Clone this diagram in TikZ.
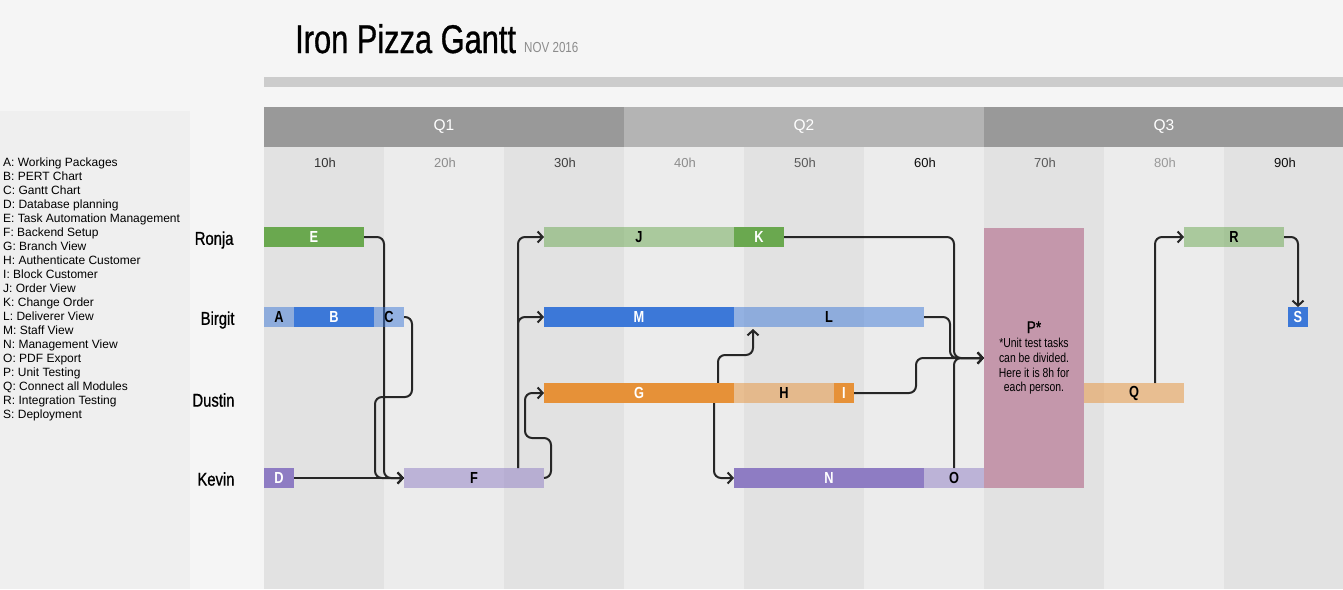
\documentclass[tikz,border=0pt]{standalone}
\usepackage{fontspec}
\setmainfont{Liberation Sans}
\newfontfamily\condfont[FakeStretch=0.8]{Liberation Sans}
\newfontfamily\namefont[FakeStretch=0.8,FakeBold=0.8]{Liberation Sans}
\newfontfamily\titlefont[FakeStretch=0.77,FakeBold=0.8]{Liberation Sans}
\usetikzlibrary{arrows.meta}

\definecolor{pageBg}{HTML}{F5F5F5}
\definecolor{panelBg}{HTML}{EFEFEF}
\definecolor{ruleGray}{HTML}{CCCCCC}
\definecolor{quarterDark}{HTML}{999999}
\definecolor{quarterLight}{HTML}{B4B4B4}
\definecolor{colDark}{HTML}{E2E2E2}
\definecolor{colLight}{HTML}{ECECEC}
\definecolor{gGreen}{HTML}{6AA84F}
\definecolor{gBlue}{HTML}{3C78D8}
\definecolor{gOrange}{HTML}{E69138}
\definecolor{gPurple}{HTML}{8E7CC3}
\definecolor{gPink}{HTML}{C497AB}

\pgfdeclarelayer{front}
\pgfsetlayers{main,front}

\begin{document}
\begin{tikzpicture}[x=1pt, y=-1pt,
    bar/.style={anchor=north west, minimum height=20pt, inner sep=0pt, outer sep=0pt,
      text=white, font=\condfont\bfseries\fontsize{16}{16}\selectfont},
    soft/.style={bar, fill opacity=0.5, text opacity=1, text=black},
    link/.style={draw=black!85, line width=2pt, rounded corners=7pt,
      -{Straight Barb[length=5pt,width=11pt]}},
    who/.style={anchor=east, font=\namefont\fontsize{18.5}{18.5}\selectfont},
    hour/.style={font=\fontsize{13}{13}\selectfont},
    quarter/.style={anchor=north west, minimum width=360pt, minimum height=40pt,
      inner sep=0pt, outer sep=0pt, text=white, font=\fontsize{15.5}{15.5}\selectfont},
    legend/.style={anchor=base west, inner sep=0pt, font=\fontsize{12}{14}\selectfont}]
  \useasboundingbox (0,0) rectangle (1343,589);
  \fill[pageBg] (0,0) rectangle (1343,589);

  % title
  \node[anchor=base west, inner sep=0pt, font=\titlefont\fontsize{40}{40}\selectfont] (title) at (295,53) {Iron Pizza Gantt};
  \node[anchor=base west, inner sep=0pt, text=black!45, font=\condfont\fontsize{14.5}{14.5}\selectfont] (date) at (524,52) {NOV 2016};
  \fill[ruleGray] (264,77) rectangle (1343,87);

  % legend
  \fill[panelBg] (0,111) rectangle (190,589);
  \foreach \t [count=\i] in {A: Working Packages, B: PERT Chart, C: Gantt Chart,
      D: Database planning, E: Task Automation Management, F: Backend Setup,
      G: Branch View, H: Authenticate Customer, I: Block Customer, J: Order View,
      K: Change Order, L: Deliverer View, M: Staff View, N: Management View,
      O: PDF Export, P: Unit Testing, Q: Connect all Modules,
      R: Integration Testing, S: Deployment}
    \node[legend] (leg\i) at (3,152+14*\i) {\t};

  % columns and quarters
  \foreach \x in {264,504,744,984,1224}
    \fill[colDark] (\x,147) rectangle ++(120,442);
  \foreach \x in {384,624,864,1104}
    \fill[colLight] (\x,147) rectangle ++(120,442);
  \node[quarter, fill=quarterDark] (q1) at (264,107) {Q1};
  \node[quarter, fill=quarterLight] (q2) at (624,107) {Q2};
  \node[quarter, fill=quarterDark] (q3) at (984,107) {Q3};
  \foreach \h/\c [count=\i] in {10h/80, 20h/45, 30h/75, 40h/45, 50h/65, 60h/95, 70h/65, 80h/40, 90h/95}
    \node[hour, text=black!\c] (hour\i) at (205+120*\i,163) {\h};

  % people
  \node[who] (ronja) at (237,240) {Ronja};
  \node[who] (birgit) at (238,320) {Birgit};
  \node[who] (dustin) at (238,400) {Dustin};
  \node[who] (kevin) at (238,479) {Kevin};

  % tasks
  \begin{pgfonlayer}{front}
    \node[bar, fill=gGreen, minimum width=100pt] (E) at (264,227) {E};
    \node[soft, fill=gBlue, minimum width=30pt] (A) at (264,307) {A};
    \node[bar, fill=gBlue, minimum width=80pt] (B) at (294,307) {B};
    \node[soft, fill=gBlue, minimum width=30pt] (C) at (374,307) {C};
    \node[bar, fill=gPurple, minimum width=30pt] (D) at (264,468) {D};
    \node[soft, fill=gPurple, minimum width=140pt] (F) at (404,468) {F};
    \node[soft, fill=gGreen, minimum width=190pt] (J) at (544,227) {J};
    \node[bar, fill=gGreen, minimum width=50pt] (K) at (734,227) {K};
    \node[bar, fill=gBlue, minimum width=190pt] (M) at (544,307) {M};
    \node[soft, fill=gBlue, minimum width=190pt] (L) at (734,307) {L};
    \node[bar, fill=gOrange, minimum width=190pt] (G) at (544,383) {G};
    \node[soft, fill=gOrange, minimum width=100pt] (H) at (734,383) {H};
    \node[bar, fill=gOrange, minimum width=20pt] (I) at (834,383) {I};
    \node[bar, fill=gPurple, minimum width=190pt] (N) at (734,468) {N};
    \node[soft, fill=gPurple, minimum width=60pt] (O) at (924,468) {O};
    \node[bar, fill=gPink, minimum width=100pt, minimum height=260pt, text=black, align=center,
      font=\condfont\fontsize{13}{14.7}\selectfont] (P) at (984,228)
      {{\namefont\fontsize{17}{17}\selectfont P*}\\*Unit test tasks\\can be divided.\\Here it is 8h for\\each person.};
    \node[soft, fill=gOrange, minimum width=100pt] (Q) at (1084,383) {Q};
    \node[soft, fill=gGreen, minimum width=100pt] (R) at (1184,227) {R};
    \node[bar, fill=gBlue, minimum width=20pt] (S) at (1288,307) {S};
  \end{pgfonlayer}

  % dependencies
  \draw[link] (E.east) -- ++(20,0) |- (F.west);
  \draw[link] (C.east) -- ++(8,0) -- ++(0,80) -- ++(-37,0) |- (F.west);
  \draw[link] (D.east) -- (F.west);
  \draw[link] ([xshift=-26pt]F.north east) |- (J.west);
  \draw[link] ([xshift=-26pt]F.north east) |- (M.west);
  \draw[link] (F.east) -- ++(7,0) -- ++(0,-40) -- ++(-26,0) |- (G.west);
  \draw[link] ([xshift=-16pt]G.north east) -- ++(0,-28) -| ([xshift=19pt,yshift=-2pt]L.south west);
  \draw[link] ([xshift=-20pt]G.south east) |- (N.west);
  \draw[link] (K.east) -- ++(170,0) |- (P.west);
  \draw[link] (L.east) -- ++(26,0) |- (P.west);
  \draw[link] (I.east) -- ++(62,0) |- (P.west);
  \draw[link] ([xshift=-30pt]O.north east) |- (P.west);
  \draw[link] ([xshift=-29pt]Q.north east) |- (R.west);
  \draw[link] (R.east) -| (S.north);
\end{tikzpicture}
\end{document}
